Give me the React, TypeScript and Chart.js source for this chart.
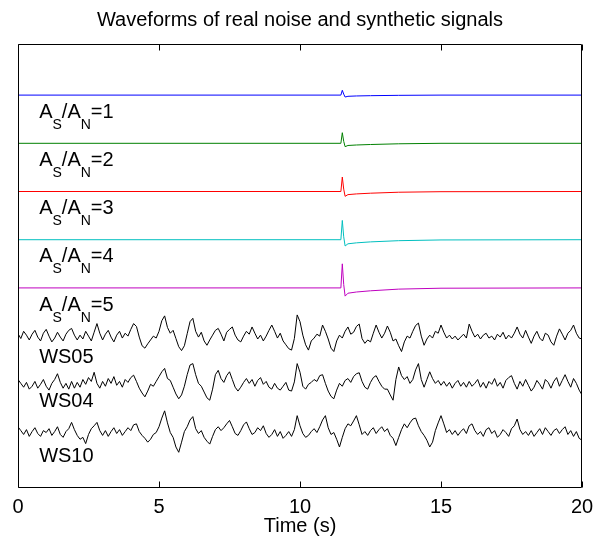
import { useEffect, useRef } from 'react';
import { Chart, registerables } from 'chart.js';

Chart.register(...registerables);

const FONT = '"Liberation Sans", Arial, Helvetica, sans-serif';
const TITLE = 'Waveforms of real noise and synthetic signals';
const X_LABEL = 'Time (s)';
const X_TICKS = [0, 5, 10, 15, 20];

// Synthetic signals (sample times in s, amplitude relative to trace baseline)
const SIGNAL_T = [0, 11.45, 11.5, 11.55, 11.6, 11.7, 12.0, 12.5, 13.5, 15, 20];
const SIG_1 = [0, 0, 0.10, 0.02, -0.04, -0.025, -0.018, -0.012, -0.005, 0, 0];
const SIG_2 = [0, 0, 0.22, 0.04, -0.07, -0.045, -0.035, -0.025, -0.01, 0, 0];
const SIG_3 = [0, 0, 0.30, 0.05, -0.10, -0.065, -0.05, -0.035, -0.015, -0.004, 0];
const SIG_4 = [0, 0, 0.40, 0.06, -0.13, -0.085, -0.065, -0.045, -0.02, -0.005, 0];
const SIG_5 = [0, 0, 0.50, 0.07, -0.17, -0.11, -0.085, -0.06, -0.025, -0.006, 0];

// Real noise records, sampled every 0.1 s from 0 to 20 s
const WS05 = [
  0.05, -0.05, 0.10, 0.02, -0.08, 0.04, 0.12, -0.02, -0.10, 0.06, 0.14,
  0.00, -0.12, -0.04, 0.08, -0.02, -0.10, 0.04, 0.12, 0.16, 0.02,
  -0.08, 0.02, -0.06, 0.10, 0.00, -0.10, 0.08, 0.26, 0.06, -0.08,
  0.04, 0.12, -0.02, -0.12, 0.02, 0.10, -0.04, 0.06, 0.00, 0.14,
  0.26, 0.20, -0.02, -0.20, -0.25, -0.16, -0.08, 0.00, -0.04, 0.10,
  0.32, 0.42, 0.18, 0.06, 0.12, -0.05, -0.22, -0.30, -0.20, 0.05,
  0.30, 0.37, 0.10, -0.02, 0.08, -0.10, -0.19, -0.08, 0.02, 0.12,
  0.16, 0.04, -0.10, 0.08, 0.14, 0.19, 0.02, -0.08, -0.12, 0.00,
  0.10, 0.04, 0.19, 0.06, -0.06, 0.02, -0.10, 0.00, 0.12, 0.23,
  0.10, -0.04, 0.06, -0.10, -0.18, -0.26, -0.29, -0.05, 0.44, 0.30,
  0.02, -0.18, -0.29, -0.10, -0.04, 0.04, 0.00, 0.23, 0.10, -0.06,
  -0.25, -0.32, -0.10, 0.02, -0.04, 0.10, 0.19, 0.04, 0.08, 0.20,
  0.25, -0.05, -0.15, -0.08, -0.12, 0.06, 0.23, 0.08, -0.04, 0.06,
  0.21, 0.08, -0.10, -0.06, -0.20, -0.32, -0.12, 0.00, -0.04, 0.10,
  0.22, 0.27, 0.00, -0.19, -0.06, 0.02, -0.04, 0.10, 0.06, 0.23,
  0.08, -0.04, 0.02, -0.06, 0.00, -0.08, -0.02, 0.04, -0.04, 0.25,
  0.10, -0.02, 0.04, -0.06, 0.02, 0.06, -0.04, 0.00, -0.08, 0.04,
  -0.02, 0.08, -0.06, 0.02, -0.04, 0.06, 0.19, 0.04, -0.04, 0.12,
  -0.02, -0.15, 0.00, 0.10, -0.04, -0.10, 0.06, 0.02, -0.12, -0.19,
  0.00, 0.15, 0.04, -0.08, 0.06, 0.12, 0.23, 0.06, -0.04, -0.06,
];
const WS04 = [
  0.10, 0.02, -0.06, 0.04, -0.10, -0.04, 0.06, -0.08, 0.00, 0.10, -0.04,
  -0.12, 0.02, 0.10, 0.22, 0.04, -0.08, 0.02, -0.10, 0.06, -0.08,
  0.04, -0.06, 0.10, 0.00, 0.14, 0.06, 0.25, 0.02, -0.08, 0.06,
  -0.04, 0.12, 0.02, 0.16, -0.02, 0.06, -0.06, 0.10, 0.04, 0.14,
  0.19, 0.06, -0.08, -0.18, -0.26, -0.14, 0.00, -0.04, 0.06, 0.16,
  0.26, 0.33, 0.12, 0.08, -0.06, -0.20, -0.30, -0.22, -0.04, 0.20,
  0.40, 0.43, 0.20, 0.02, -0.04, -0.16, -0.28, -0.33, -0.10, 0.20,
  0.29, 0.12, 0.04, 0.18, 0.26, 0.10, -0.06, -0.14, -0.06, 0.04,
  0.12, 0.02, 0.10, -0.04, 0.08, 0.14, 0.00, 0.06, -0.06, -0.10,
  0.02, -0.08, -0.12, -0.04, 0.04, -0.12, -0.14, 0.05, 0.43, 0.25,
  -0.04, -0.10, 0.00, 0.04, 0.10, 0.06, 0.18, 0.20, 0.02, -0.14,
  -0.25, -0.30, -0.12, 0.02, -0.04, 0.08, 0.12, 0.04, 0.16, 0.22,
  0.24, 0.06, -0.06, -0.10, 0.04, 0.14, 0.18, 0.06, -0.04, -0.10,
  -0.10, -0.22, -0.33, 0.10, 0.36, 0.18, 0.10, 0.16, 0.02, 0.10,
  0.30, 0.43, 0.10, -0.06, 0.10, 0.26, 0.12, 0.02, 0.08, -0.02,
  0.06, -0.04, 0.04, -0.08, 0.02, 0.08, -0.04, 0.04, -0.06, 0.06,
  -0.04, 0.02, 0.10, -0.06, 0.04, -0.08, 0.06, 0.00, 0.12, -0.04,
  0.04, -0.08, 0.08, 0.14, 0.18, 0.02, -0.10, 0.06, -0.04, 0.10,
  -0.02, -0.14, -0.06, 0.08, 0.00, -0.10, 0.10, 0.04, -0.08, 0.06,
  0.14, -0.04, 0.08, 0.20, 0.06, -0.06, 0.12, 0.02, -0.12, -0.22,
];
const WS10 = [
  0.12, 0.04, -0.04, 0.06, -0.08, 0.02, 0.10, -0.02, -0.08, 0.04, 0.00,
  0.08, -0.06, 0.02, 0.12, -0.04, -0.10, 0.02, 0.08, 0.21, 0.06,
  -0.06, -0.14, -0.10, -0.23, -0.04, 0.08, 0.14, 0.21, 0.04, -0.06,
  0.04, -0.08, 0.02, 0.10, -0.02, 0.06, -0.06, 0.02, 0.10, 0.04,
  0.16, 0.18, 0.02, -0.06, -0.12, -0.20, -0.14, -0.04, 0.00, 0.12,
  0.30, 0.45, 0.20, 0.00, -0.10, -0.30, -0.41, -0.20, 0.02, 0.12,
  0.26, 0.33, 0.08, -0.02, 0.04, -0.10, -0.18, -0.24, -0.08, 0.06,
  0.12, 0.04, 0.10, 0.18, 0.25, 0.12, -0.02, -0.06, 0.04, 0.16,
  0.22, 0.08, -0.04, 0.00, 0.10, 0.04, 0.14, -0.02, -0.10, -0.04,
  0.06, -0.08, 0.02, -0.12, -0.06, 0.02, -0.08, 0.06, 0.35, 0.14,
  -0.02, -0.10, -0.06, 0.02, 0.08, 0.00, 0.12, 0.26, 0.35, 0.10,
  -0.04, 0.00, -0.14, -0.30, -0.10, 0.08, 0.18, 0.14, 0.24, 0.35,
  0.16, -0.04, 0.02, -0.06, 0.04, 0.10, -0.02, 0.06, 0.12, 0.02,
  0.08, -0.06, -0.12, -0.27, -0.10, 0.06, 0.18, 0.10, 0.20, 0.28,
  0.30, 0.14, 0.02, -0.06, -0.16, -0.30, -0.20, 0.04, 0.20, 0.35,
  0.18, 0.00, 0.06, -0.04, 0.04, -0.06, 0.02, 0.08, -0.02, 0.14,
  0.18, 0.04, -0.04, 0.02, -0.08, 0.06, 0.10, -0.02, 0.04, -0.10,
  -0.04, 0.06, 0.00, -0.08, 0.08, 0.14, 0.28, 0.06, -0.04, 0.02,
  -0.06, 0.04, -0.08, 0.00, 0.08, -0.04, 0.10, 0.02, -0.06, 0.04,
  0.08, -0.02, 0.06, 0.12, -0.04, 0.04, -0.08, 0.02, -0.12, -0.16,
];

const NOISE_SPAN = 20;

type Trace = { label: string; sub: boolean; ratio?: string; color: string; t: number[]; v: number[]; drop: number };

const TRACES: Trace[] = [
  { label: '1', sub: true, color: '#0000ff', t: SIGNAL_T, v: SIG_1, drop: 0.47 },
  { label: '2', sub: true, color: '#008000', t: SIGNAL_T, v: SIG_2, drop: 0.47 },
  { label: '3', sub: true, color: '#ff0000', t: SIGNAL_T, v: SIG_3, drop: 0.47 },
  { label: '4', sub: true, color: '#00bfbf', t: SIGNAL_T, v: SIG_4, drop: 0.47 },
  { label: '5', sub: true, color: '#bf00bf', t: SIGNAL_T, v: SIG_5, drop: 0.47 },
  { label: 'WS05', sub: false, color: '#000000', t: WS05.map((_, i) => (i * NOISE_SPAN) / (WS05.length - 1)), v: WS05, drop: 0.56 },
  { label: 'WS04', sub: false, color: '#000000', t: WS04.map((_, i) => (i * NOISE_SPAN) / (WS04.length - 1)), v: WS04, drop: 0.48 },
  { label: 'WS10', sub: false, color: '#000000', t: WS10.map((_, i) => (i * NOISE_SPAN) / (WS10.length - 1)), v: WS10, drop: 0.62 },
];

const LABEL_X = 0.75;

const overlay = {
  id: 'overlay',
  afterDraw(chart: any) {
    const { ctx, chartArea: a, scales } = chart;
    const x = scales.x;
    const y = scales.y;
    ctx.save();
    ctx.strokeStyle = '#000';
    ctx.lineWidth = 1;
    const L = Math.round(a.left) + 0.5;
    const R = Math.round(a.right) - 0.5;
    const T = Math.round(a.top) + 0.5;
    const B = Math.round(a.bottom) + 0.5;
    ctx.beginPath();
    ctx.moveTo(L, T);
    ctx.lineTo(R, T);
    ctx.lineTo(R, B);
    ctx.lineTo(L, B);
    ctx.closePath();
    ctx.stroke();
    ctx.beginPath();
    for (const v of X_TICKS) {
      const px = Math.round(x.getPixelForValue(v)) + 0.5;
      ctx.moveTo(px, B);
      ctx.lineTo(px, B - 6);
      ctx.moveTo(px, T);
      ctx.lineTo(px, T + 6);
    }
    ctx.stroke();

    ctx.fillStyle = '#000';
    ctx.textBaseline = 'alphabetic';
    ctx.textAlign = 'left';
    const big = `20px ${FONT}`;
    const small = `14px ${FONT}`;
    TRACES.forEach((tr, k) => {
      const px = x.getPixelForValue(LABEL_X);
      const py = Math.round(y.getPixelForValue(-k - tr.drop));
      if (!tr.sub) {
        ctx.font = big;
        ctx.fillText(tr.label, px, py);
        return;
      }
      let cx = px;
      const parts: [string, boolean][] = [
        ['A', false], ['S', true], ['/A', false], ['N', true], ['=' + tr.label, false],
      ];
      for (const [s, isSub] of parts) {
        ctx.font = isSub ? small : big;
        ctx.fillText(s, cx, isSub ? py + 11 : py);
        cx += ctx.measureText(s).width;
      }
    });
    ctx.restore();
  },
};

export default function App() {
  const ref = useRef<HTMLCanvasElement | null>(null);
  useEffect(() => {
    if (!ref.current) return;
    const datasets = TRACES.map((tr, k) => ({
      label: tr.label,
      data: tr.t.map((t, i) => ({ x: t, y: -k + tr.v[i] })),
      borderColor: tr.color,
      backgroundColor: tr.color,
      borderWidth: 1,
      pointRadius: 0,
      tension: 0,
      fill: false,
    }));
    const chart = new Chart(ref.current, {
      type: 'line',
      data: { datasets },
      plugins: [overlay],
      options: {
        responsive: false,
        animation: false,
        devicePixelRatio: 1,
        layout: { padding: { left: 18, right: 12, top: 0, bottom: 0 } },
        plugins: {
          legend: { display: false },
          tooltip: { enabled: false },
          title: {
            display: true,
            text: TITLE,
            color: '#000',
            font: { family: FONT, size: 20, weight: 'normal' },
            padding: { top: 8, bottom: 12 },
          },
        },
        scales: {
          x: {
            type: 'linear',
            min: 0,
            max: 20,
            afterBuildTicks: (s: any) => {
              s.ticks = X_TICKS.map((v) => ({ value: v }));
            },
            afterFit: (s: any) => {
              s.height = 57;
              s.paddingLeft = 0;
              s.paddingRight = 0;
            },
            grid: { display: false, drawTicks: false },
            border: { display: false },
            ticks: {
              color: '#000',
              font: { family: FONT, size: 20 },
              padding: 8,
              maxRotation: 0,
              autoSkip: false,
            },
            title: {
              display: true,
              text: X_LABEL,
              color: '#000',
              font: { family: FONT, size: 20 },
              padding: { top: 0, bottom: 6 },
            },
          },
          y: {
            type: 'linear',
            display: false,
            min: -8.13,
            max: 1.06,
          },
        },
      },
    });
    return () => chart.destroy();
  }, []);
  return (
    <div style={{ position: 'fixed', left: 0, top: 0, width: 594, height: 544, background: '#fff' }}>
      <canvas ref={ref} width={594} height={544} style={{ width: 594, height: 544 }} />
    </div>
  );
}
